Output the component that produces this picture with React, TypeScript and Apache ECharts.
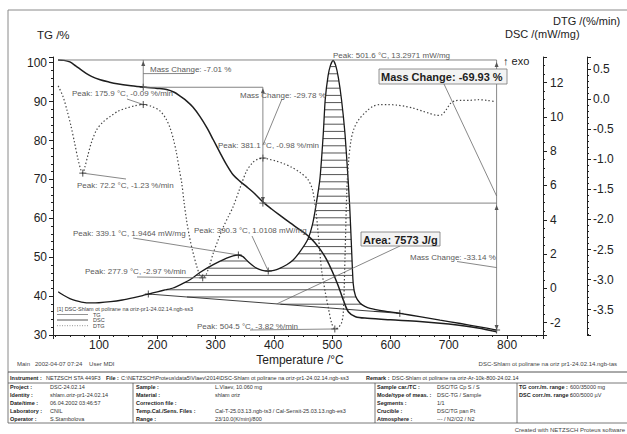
import React, { useEffect, useRef } from "react";
import * as echarts from "echarts";

const FONT = "'Liberation Sans', Arial, sans-serif";

// axis extents (°C, %, mW/mg, %/min)
const tempRange = [21.1, 861.6];
const tgRange = [30, 101.47];
const dscRange = [-2.72, 13.49];
const dtgRange = [-3.92, 0.7];

// TG curve [°C, %]
const tgCurve: number[][] = [
  [29.7, 100.7], [40, 100.6], [50, 100.2], [60, 99.2], [73, 97.8], [87, 96.5], [102, 95.6], [118, 95.0],
  [131, 94.6], [155, 94.1], [179, 93.7], [200, 93.4], [216, 93.1], [229, 92.4], [239, 91.4], [250, 90.2],
  [261, 88.6], [273, 86.2], [285, 83.3], [296, 80.2], [307.5, 76.9], [318, 74.0], [330, 71.2], [342, 69.5],
  [355, 67.9], [368, 66.2], [382, 64.1], [396, 62.4], [410, 60.8], [428, 58.8], [445, 57.0], [460, 55.3],
  [470, 53.8], [480, 51.9], [490, 49.5], [500, 46.4], [510, 42.8], [520, 38.6], [528, 35.9], [540, 34.7],
  [560, 34.3], [600, 33.9], [650, 33.5], [700, 32.8], [750, 31.8], [782, 30.8],
];

// DSC curve [°C, mW/mg]
const dscCurve: number[][] = [
  [30, -0.2], [40, -0.42], [50, -0.6], [60, -0.72], [70, -0.8], [85, -0.85], [100, -0.84], [120, -0.78],
  [140, -0.68], [160, -0.54], [175, -0.42], [184.6, -0.33], [200, -0.2], [215, -0.08], [227, 0.02],
  [240, 0.22], [256, 0.5], [273, 0.92], [296, 1.38], [319, 1.76], [330, 1.9], [339.1, 1.946], [347, 1.85],
  [355, 1.58], [363, 1.35], [370, 1.18], [380, 1.05], [390.3, 1.011], [400, 1.05], [410, 1.17], [422, 1.38],
  [433, 1.65], [446, 2.2], [458, 2.85], [466, 3.7], [472, 4.8], [479, 6.4], [484.7, 9.0], [488, 11.0],
  [493, 12.4], [497, 13.0], [501.6, 13.297], [506, 13.0], [510.5, 12.3], [516, 11.0], [522, 9.0],
  [527, 6.5], [530, 4.8], [533, 2.5], [536, 0.3], [540, -0.45], [548, -0.87], [556, -1.05], [565, -1.17],
  [590, -1.33], [616, -1.46], [650, -1.65], [685, -1.85], [720, -2.05], [750, -2.23], [782, -2.43],
];

// DTG curve [°C, %/min]
const dtgCurve: number[][] = [
  [30, 0.22], [38, 0.05], [45, -0.18], [52, -0.45], [58, -0.72], [64, -1.0], [69, -1.18], [72.2, -1.23],
  [76, -1.12], [81, -0.93], [87, -0.72], [96, -0.51], [107, -0.38], [119, -0.29], [133, -0.2], [147, -0.15],
  [162, -0.11], [175.9, -0.09], [190, -0.12], [205, -0.2], [215, -0.33], [222, -0.48], [228, -0.68],
  [233, -0.9], [238, -1.18], [242, -1.4], [246, -1.72], [250, -2.0], [255, -2.28], [260, -2.5],
  [268, -2.79], [273, -2.92], [277.9, -2.97], [283, -2.93], [290, -2.75], [296, -2.56], [304, -2.35],
  [313, -2.13], [322, -1.95], [330, -1.79], [341, -1.5], [353, -1.2], [364, -1.05], [372, -1.0],
  [381.1, -0.98], [392, -1.0], [404, -1.03], [416, -1.07], [430, -1.13], [445, -1.22], [458, -1.33],
  [466, -1.5], [472, -1.85], [477, -2.35], [482, -2.85], [488, -3.2], [494, -3.5], [499, -3.72],
  [504.5, -3.82], [510, -3.8], [516, -3.72], [519, -3.55], [522, -2.62], [525, -1.55], [528, -1.05],
  [532, -0.7], [537, -0.5], [545, -0.35], [559, -0.2], [570, -0.12], [582, -0.09], [596, -0.09],
  [611, -0.1], [625, -0.12], [639, -0.15], [655, -0.2], [668, -0.24], [680, -0.27], [688, -0.26],
  [696, -0.17], [703, -0.07], [710, -0.03], [722, -0.02], [736, -0.02], [750, -0.01], [765, -0.02],
  [779, -0.04],
];

const dtgPeaks: number[][] = [[72.2, -1.23], [175.9, -0.09], [277.9, -2.97], [381.1, -0.98], [504.5, -3.82]];
const dscPeaks: number[][] = [[339.1, 1.9464], [390.3, 1.0108], [501.6, 13.2971]];
const dscBaseline: number[][] = [[184.6, -0.33], [616, -1.46]];
const dscEnd: number[][] = [[782, -2.43]];
const massStepTemps = [175.9, 381.1, 782];
const massLevels = [100.7, 93.69, 63.91, 30.77];

const tableInstrument = [
  ["Instrument :", "NETZSCH STA 449F3"],
  ["File :", "C:\\NETZSCH\\Proteus\\data5\\Vlaev\\2014\\DSC-Shlam ot polirane na oriz-pr1-24.02.14.ngb-ss3"],
  ["Remark :", "DSC-Shlam ot polirane na oriz-Ar-10k-800-24.02.14"],
];
const tableLeft = [
  ["Project :", "DSC-24.02.14"], ["Identity :", "shlam.oriz-pr1-24.02.14"], ["Date/time :", "06.04.2002 03:46:57"],
  ["Laboratory :", "CNIL"], ["Operator :", "S.Stambolova"],
];
const tableMid = [
  ["Sample :", "L.Vlaev, 10.060 mg"], ["Material :", "shlam oriz"], ["Correction file :", ""],
  ["Temp.Cal./Sens. Files :", "Cal-T-25.03.13.ngb-ts3 / Cal-Sensit-25.03.13.ngb-es3"], ["Range :", "23/10.0(K/min)/800"],
];
const tableRight = [
  ["Sample car./TC :", "DSC/TG Cp S / S"], ["Mode/type of meas. :", "DSC-TG / Sample"], ["Segments :", "1/1"],
  ["Crucible :", "DSC/TG pan Pt"], ["Atmosphere :", "--- / N2/O2 / N2"],
];
const tableFar = [["TG corr./m. range :", "600/35000 mg"], ["DSC corr./m. range :", "600/5000 µV"]];

const CROSS = "path://M5,0L5,10M0,5L10,5";
const AX = { color: "#222", width: 1 };

function baseOption(): any {
  const poly = [dscBaseline[0], ...dscCurve.filter((p) => p[0] > dscBaseline[0][0] && p[0] < dscBaseline[1][0]), dscBaseline[1]];
  const markerStyle = { color: "none", borderColor: "#222", borderWidth: 1 };
  return {
    animation: false,
    backgroundColor: "#fff",
    grid: { left: 53, right: 84, top: 57, bottom: 99, containLabel: false, outerBoundsMode: "none" },
    xAxis: {
      type: "value", min: tempRange[0], max: tempRange[1], splitNumber: 8,
      axisLine: { show: true, onZero: false, lineStyle: AX },
      axisTick: { show: true, length: 4, lineStyle: AX },
      minorTick: { show: true, splitNumber: 4, length: 2, lineStyle: AX },
      axisLabel: { fontSize: 12, color: "#222", fontFamily: FONT, margin: 4, showMinLabel: false, showMaxLabel: false },
      splitLine: { show: false },
    },
    yAxis: [
      {
        type: "value", position: "left", min: tgRange[0], max: tgRange[1], interval: 10,
        axisLine: { show: true, onZero: false, lineStyle: AX },
        axisTick: { show: true, length: 4, lineStyle: AX },
        minorTick: { show: true, splitNumber: 5, length: 2, lineStyle: AX },
        axisLabel: { fontSize: 12, color: "#222", fontFamily: FONT, margin: 6, showMaxLabel: false },
        splitLine: { show: false },
      },
      {
        type: "value", position: "right", min: dscRange[0], max: dscRange[1], splitNumber: 8,
        axisLine: { show: true, onZero: false, lineStyle: AX },
        axisTick: { show: true, length: 4, lineStyle: AX },
        minorTick: { show: true, splitNumber: 4, length: 2, lineStyle: AX },
        axisLabel: { fontSize: 12, color: "#222", fontFamily: FONT, margin: 7, showMinLabel: false, showMaxLabel: false },
        splitLine: { show: false },
      },
      {
        type: "value", position: "right", offset: 44, min: dtgRange[0], max: dtgRange[1], splitNumber: 9,
        axisLine: { show: true, onZero: false, lineStyle: AX },
        axisTick: { show: true, length: 4, lineStyle: AX },
        minorTick: { show: true, splitNumber: 5, length: 2, lineStyle: AX },
        axisLabel: {
          fontSize: 12, color: "#222", fontFamily: FONT, margin: 6, showMinLabel: false, showMaxLabel: false,
          formatter: (v: number) => v.toFixed(1),
        },
        splitLine: { show: false },
      },
    ],
    series: [
      { name: "TG", type: "line", yAxisIndex: 0, data: tgCurve, showSymbol: false, smooth: 0.3, z: 4,
        lineStyle: { color: "#1e1e1e", width: 1.5 } },
      { name: "DSC", type: "line", yAxisIndex: 1, data: dscCurve, showSymbol: false, smooth: 0.2, z: 4,
        lineStyle: { color: "#1a1a1a", width: 1.3 } },
      { name: "DTG", type: "line", yAxisIndex: 2, data: dtgCurve, showSymbol: false, smooth: 0.3, z: 4,
        lineStyle: { color: "#444", width: 1.2, type: [1.4, 2.2] } },
      {
        name: "hatch", type: "custom", yAxisIndex: 1, data: [[300, 0]], silent: true, z: 2, clip: false,
        renderItem: (_params: any, api: any) => {
          const pts = poly.map((p) => api.coord(p));
          let minY = Infinity, maxY = -Infinity;
          pts.forEach((p: number[]) => { minY = Math.min(minY, p[1]); maxY = Math.max(maxY, p[1]); });
          const children: any[] = [];
          for (let y = maxY - 2; y > minY + 1; y -= 7.2) {
            const xs: number[] = [];
            for (let i = 0; i < pts.length; i++) {
              const a = pts[i], b = pts[(i + 1) % pts.length];
              if ((a[1] <= y && b[1] > y) || (b[1] <= y && a[1] > y)) {
                xs.push(a[0] + ((y - a[1]) * (b[0] - a[0])) / (b[1] - a[1]));
              }
            }
            xs.sort((m, n) => m - n);
            for (let k = 0; k + 1 < xs.length; k += 2) {
              children.push({ type: "line", shape: { x1: xs[k], y1: y, x2: xs[k + 1], y2: y }, style: { stroke: "#2a2a2a", lineWidth: 0.8 } });
            }
          }
          const [b0, b1] = [api.coord(dscBaseline[0]), api.coord(dscBaseline[1])];
          children.push({ type: "line", shape: { x1: b0[0], y1: b0[1], x2: b1[0], y2: b1[1] }, style: { stroke: "#2a2a2a", lineWidth: 0.9 } });
          return { type: "group", children };
        },
      },
      { type: "scatter", yAxisIndex: 2, data: dtgPeaks, symbol: CROSS, symbolSize: 7, itemStyle: markerStyle, z: 5, silent: true },
      { type: "scatter", yAxisIndex: 1, data: [dscPeaks[0], dscPeaks[1], ...dscBaseline, ...dscEnd], symbol: CROSS, symbolSize: 7, itemStyle: markerStyle, z: 5, silent: true },
      { type: "scatter", yAxisIndex: 0, data: [[massStepTemps[0], massLevels[1]], [massStepTemps[1], massLevels[2]]], symbol: CROSS, symbolSize: 7, itemStyle: markerStyle, z: 5, silent: true },
    ],
  };
}

function buildGraphics(px: (s: number, p: number[]) => number[]): any[] {
  const g: any[] = [];
  const txt = (x: number, y: number, text: string, o: any = {}) =>
    g.push({ type: "text", x, y, silent: true, z: 10, style: { text, fontSize: 8, fontFamily: FONT, fill: "#5a5a5a", align: "left", verticalAlign: "middle", ...o } });
  const ln = (x1: number, y1: number, x2: number, y2: number, stroke = "#6a6a6a", w = 0.8, dash?: number[]) =>
    g.push({ type: "line", silent: true, z: 9, shape: { x1, y1, x2, y2 }, style: { stroke, lineWidth: w, lineDash: dash } });
  const arrow = (x: number, y: number, up: boolean) =>
    g.push({ type: "polygon", silent: true, z: 9, shape: { points: up ? [[x, y], [x - 2, y + 5], [x + 2, y + 5]] : [[x, y], [x - 2, y - 5], [x + 2, y - 5]] }, style: { fill: "#555" } });

  // outer frame
  ln(8, 10, 627, 10, "#8a8a8a", 1);
  ln(8, 10, 8, 372, "#8a8a8a", 1);

  // axis titles
  txt(37, 35, "TG /%", { fontSize: 11.5, fill: "#222" });
  txt(505, 34, "DSC /(mW/mg)", { fontSize: 11, fill: "#222" });
  txt(553, 21, "DTG /(%/min)", { fontSize: 11, fill: "#222" });
  txt(503, 61, "↑ exo", { fontSize: 11, fill: "#222" });
  txt(300, 360, "Temperature /°C", { fontSize: 12, fill: "#222", align: "center" });

  // mass change steps
  const [L0, L1, L2, L3] = massLevels;
  const [m1, m2, m3] = massStepTemps;
  const p = (t: number, v: number) => px(0, [t, v]);
  const s0 = p(tgCurve[0][0], L0), e0 = p(m3, L0);
  ln(s0[0], s0[1], e0[0], e0[1], "#777", 0.9);
  const s1 = p(m1, L1), e1 = p(m2, L1);
  ln(s1[0], s1[1], e1[0], e1[1], "#777", 0.9);
  const s2 = p(m2, L2), e2 = p(m3, L2);
  ln(s2[0], s2[1], e2[0], e2[1], "#777", 0.9);
  const v1a = p(m1, L0), v1b = p(m1, L1);
  ln(v1a[0], v1a[1], v1b[0], v1b[1]);
  arrow(v1a[0], v1a[1] + 1, true);
  const v2a = p(m2, L1), v2b = p(m2, L2);
  ln(v2a[0], v2a[1], v2b[0], v2b[1]);
  arrow(v2a[0], v2a[1] + 1, true);
  arrow(v2b[0], v2b[1] - 1, false);
  const v3a = p(m3, L0), v3b = p(m3, L3), v3m = p(m3, L2);
  ln(v3a[0], v3a[1], v3b[0], v3b[1]);
  arrow(v3a[0], v3a[1] + 2, true);
  arrow(v3m[0], v3m[1] + 2, true);
  arrow(v3b[0], v3b[1] - 2, false);

  // mass change labels
  txt(150, 69, "Mass Change: -7.01 %");
  const mc1 = p(m1, (L0 + L1) / 2);
  ln(mc1[0], mc1[1], 193, 73.5);
  txt(240, 95, "Mass Change: -29.78 %");
  const mc2 = p(m2, (L1 + L2) / 2);
  ln(282, 99, mc2[0], mc2[1]);
  txt(410, 257, "Mass Change: -33.14 %");
  const mc4 = p(m3, (L2 + L3) / 2);
  ln(457, 261.5, mc4[0], mc4[1]);
  g.push({ type: "rect", silent: true, z: 9, shape: { x: 379, y: 69, width: 128, height: 15 }, style: { fill: "#f3f3f3", stroke: "#777", lineWidth: 0.8 } });
  txt(381, 77, "Mass Change: -69.93 %", { fontSize: 11, fontWeight: "bold", fill: "#1e1e1e", z: 11 });
  const mc3 = p(m3, (L0 + L3) / 2);
  ln(444, 84, mc3[0], mc3[1]);

  // peak labels (DTG)
  const d = (t: number, v: number) => px(2, [t, v]);
  txt(72, 93, "Peak: 175.9 °C, -0.09 %/min");
  let a = d(dtgPeaks[1][0], dtgPeaks[1][1]);
  ln(127, 99, a[0], a[1]);
  txt(77, 185, "Peak: 72.2 °C, -1.23 %/min");
  a = d(dtgPeaks[0][0], dtgPeaks[0][1]);
  ln(a[0], a[1], 126, 179);
  txt(218, 145, "Peak: 381.1 °C, -0.98 %/min");
  txt(85, 271, "Peak: 277.9 °C, -2.97 %/min");
  a = d(dtgPeaks[2][0], dtgPeaks[2][1]);
  ln(137, 277, a[0], a[1]);
  txt(197, 326, "Peak: 504.5 °C, -3.82 %/min");
  a = d(dtgPeaks[4][0], dtgPeaks[4][1]);
  ln(250, 330, a[0], a[1]);

  // peak labels (DSC)
  const c = (t: number, v: number) => px(1, [t, v]);
  txt(73, 233, "Peak: 339.1 °C, 1.9464 mW/mg");
  a = c(dscPeaks[0][0], dscPeaks[0][1]);
  ln(133, 238, a[0], a[1]);
  txt(194, 230, "Peak: 390.3 °C, 1.0108 mW/mg");
  a = c(dscPeaks[1][0], dscPeaks[1][1]);
  ln(252, 236, a[0], a[1]);
  txt(333, 55.5, "Peak: 501.6 °C, 13.2971 mW/mg");

  // area label
  const [bl0, bl1] = dscBaseline;
  const tA = 405;
  const vA = bl0[1] + ((tA - bl0[0]) / (bl1[0] - bl0[0])) * (bl1[1] - bl0[1]);
  const aA = c(tA, vA);
  ln(aA[0], aA[1], 400, 246);
  g.push({ type: "rect", silent: true, z: 9, shape: { x: 361, y: 232, width: 79, height: 14 }, style: { fill: "#f3f3f3", stroke: "#777", lineWidth: 0.8 } });
  txt(363, 239.5, "Area: 7573 J/g", { fontSize: 11, fontWeight: "bold", fill: "#1e1e1e", z: 11 });

  // legend
  txt(57, 309, "[1] DSC-Shlam ot polirane na oriz-pr1-24.02.14.ngb-ss3", { fontSize: 5.5, fill: "#444" });
  ln(57, 314.5, 88, 314.5, "#777", 0.8);
  txt(93, 314.5, "TG", { fontSize: 5.5, fill: "#444" });
  ln(57, 320, 88, 320, "#555", 1);
  txt(93, 320, "DSC", { fontSize: 5.5, fill: "#444" });
  ln(57, 325.7, 88, 325.7, "#777", 0.8, [1, 1.5]);
  txt(93, 325.7, "DTG", { fontSize: 5.5, fill: "#444" });

  // footer texts
  txt(17, 364, "Main   2002-04-07 07:24    User MDI", { fontSize: 6, fill: "#444" });
  txt(617, 364, "DSC-Shlam ot polirane na oriz pr1-24.02.14.ngb-tas", { fontSize: 6, fill: "#444", align: "right" });

  // table
  const TL = "#555";
  ln(8, 372, 627, 372, TL, 1);
  ln(8, 383, 627, 383, TL, 0.8);
  ln(8, 423, 627, 423, TL, 0.8);
  [8, 133, 375, 517].forEach((x) => ln(x, 383, x, 423, TL, 0.8));
  ln(8, 372, 8, 383, TL, 0.8);
  const lab = { fontSize: 5.5, fill: "#222", fontWeight: "bold" };
  const val = { fontSize: 5.5, fill: "#333" };
  txt(10, 378, tableInstrument[0][0], lab);
  txt(46, 378, tableInstrument[0][1], val);
  txt(106, 378, tableInstrument[1][0], lab);
  txt(121, 378, tableInstrument[1][1], val);
  txt(366, 378, tableInstrument[2][0], lab);
  txt(392, 378, tableInstrument[2][1], val);
  const rowsY = [387, 395, 403, 411, 419];
  tableLeft.forEach((r, i) => { txt(10, rowsY[i], r[0], lab); txt(50, rowsY[i], r[1], val); });
  tableMid.forEach((r, i) => { txt(136, rowsY[i], r[0], lab); if (r[1]) txt(215, rowsY[i], r[1], val); });
  tableRight.forEach((r, i) => { txt(377, rowsY[i], r[0], lab); txt(437, rowsY[i], r[1], val); });
  tableFar.forEach((r, i) => { txt(519, rowsY[i], r[0], lab); txt(570, rowsY[i], r[1], val); });
  txt(625, 430, "Created with NETZSCH Proteus software", { fontSize: 6, fill: "#444", align: "right" });

  return g;
}

export default function App() {
  const ref = useRef<HTMLDivElement>(null);
  useEffect(() => {
    if (!ref.current) return;
    const chart = echarts.init(ref.current, null, { renderer: "svg" });
    chart.setOption(baseOption());
    const px = (s: number, pt: number[]) => chart.convertToPixel({ seriesIndex: s }, pt) as number[];
    chart.setOption({ graphic: buildGraphics(px) });
    return () => chart.dispose();
  }, []);
  return (
    <div
      ref={ref}
      style={{ position: "absolute", left: 0, top: 0, width: 627, height: 434, background: "#fff" }}
    />
  );
}
